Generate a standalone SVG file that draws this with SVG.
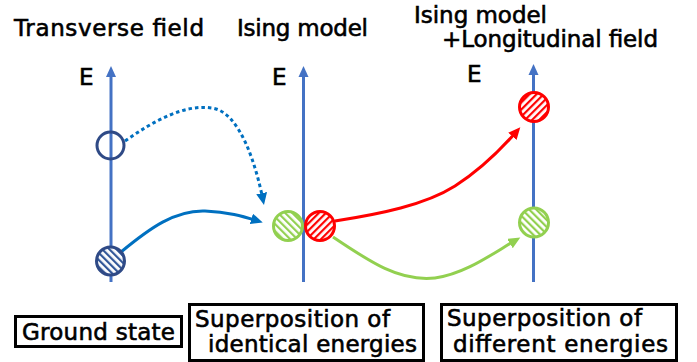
<svg xmlns="http://www.w3.org/2000/svg" width="697" height="362" viewBox="0 0 697 362">
<style>
text{font-family:"DejaVu Sans","Liberation Sans",sans-serif;font-size:23px;fill:#000;stroke:#000;stroke-width:0.6}
.axis{stroke:#4472C4;stroke-width:3;fill:none}
.axhead{fill:#4472C4}
.box{fill:#fff;stroke:#000;stroke-width:3}
.conn{fill:none;stroke-width:3}
</style>
<defs>
<pattern id="hBlue" patternUnits="userSpaceOnUse" width="5" height="5" patternTransform="rotate(-45)">
<rect width="5" height="5" fill="#fff"/><rect width="2.2" height="5" fill="#2F5597"/>
</pattern>
<pattern id="hGreen" patternUnits="userSpaceOnUse" width="5" height="5" patternTransform="rotate(-45)">
<rect width="5" height="5" fill="#fff"/><rect width="2.2" height="5" fill="#92D050"/>
</pattern>
<pattern id="hRed" patternUnits="userSpaceOnUse" width="5" height="5" patternTransform="rotate(45)">
<rect width="5" height="5" fill="#fff"/><rect width="2.2" height="5" fill="#FF0000"/>
</pattern>
<marker id="mBlue" markerUnits="userSpaceOnUse" markerWidth="13" markerHeight="12" refX="7" refY="5.5" orient="auto" viewBox="0 0 13 12">
<path d="M0,0 L12,5.5 L0,11 z" fill="#0070C0"/>
</marker>
<marker id="mRed" markerUnits="userSpaceOnUse" markerWidth="13" markerHeight="12" refX="7" refY="5.5" orient="auto" viewBox="0 0 13 12">
<path d="M0,0 L12,5.5 L0,11 z" fill="#FF0000"/>
</marker>
<marker id="mGreen" markerUnits="userSpaceOnUse" markerWidth="13" markerHeight="12" refX="7" refY="5.5" orient="auto" viewBox="0 0 13 12">
<path d="M0,0 L12,5.5 L0,11 z" fill="#92D050"/>
</marker>
</defs>
<g id="titles">
<text x="14" y="36" textLength="190" lengthAdjust="spacing">Transverse field</text>
<text x="237" y="36" textLength="131" lengthAdjust="spacing">Ising model</text>
<text x="414" y="23" textLength="133" lengthAdjust="spacing">Ising model</text>
<text x="442" y="47" textLength="216" lengthAdjust="spacing">+Longitudinal field</text>
</g>
<g id="axes">
<g id="axis1"><line class="axis" x1="111" y1="74" x2="111" y2="282"/><path class="axhead" d="M111,66 L116,77 L106,77 z"/><text x="79" y="85">E</text></g>
<g id="axis2"><line class="axis" x1="303.5" y1="74" x2="303.5" y2="282"/><path class="axhead" d="M303.5,66 L308.5,77 L298.5,77 z"/><text x="272" y="85">E</text></g>
<g id="axis3"><line class="axis" x1="533.5" y1="72" x2="533.5" y2="282"/><path class="axhead" d="M533.5,64 L538.5,75 L528.5,75 z"/><text x="467" y="82">E</text></g>
</g>
<g id="connectors">
<path class="conn" stroke="#0070C0" stroke-dasharray="3.5 3" d="M125,141 C155,120 185,104 212,108 C240,112 256,165 263,200" marker-end="url(#mBlue)"/>
<path class="conn" stroke="#0070C0" d="M121,252 C150,228 175,210 205,211 C228,212 242,216 258,221" marker-end="url(#mBlue)"/>
<path class="conn" stroke="#FF0000" d="M335,221 C380,214 425,205 455,186 C480,170 503,147 517,131" marker-end="url(#mRed)"/>
<path class="conn" stroke="#92D050" d="M333,237 C370,262 400,282 435,278 C465,274 492,254 516,240" marker-end="url(#mGreen)"/>
</g>
<g id="state-excited-tf"><circle cx="110.5" cy="145.5" r="13.5" fill="none" stroke="#2F4A86" stroke-width="3"/></g>
<g id="state-ground-tf"><circle cx="110.5" cy="261" r="14" fill="url(#hBlue)" stroke="#2F4A86" stroke-width="3"/></g>
<g id="state-green-ising"><circle cx="288" cy="226" r="14.5" fill="url(#hGreen)" stroke="#92D050" stroke-width="3"/></g>
<g id="state-red-ising"><circle cx="320" cy="226" r="14.5" fill="url(#hRed)" stroke="#FF0000" stroke-width="3"/></g>
<g id="state-red-long"><circle cx="534" cy="107" r="14.5" fill="url(#hRed)" stroke="#FF0000" stroke-width="3"/></g>
<g id="state-green-long"><circle cx="534" cy="222.5" r="14.5" fill="url(#hGreen)" stroke="#92D050" stroke-width="3"/></g>
<g id="box-ground"><rect class="box" x="15.5" y="316.5" width="166" height="30"/><text x="22" y="340" textLength="153" lengthAdjust="spacing">Ground state</text></g>
<g id="box-identical"><rect class="box" x="189.5" y="304.5" width="234" height="56"/><text x="195" y="327" textLength="195" lengthAdjust="spacing">Superposition of</text><text x="208" y="352" textLength="209" lengthAdjust="spacing">identical energies</text></g>
<g id="box-different"><rect class="box" x="441.5" y="304.5" width="235" height="56"/><text x="447" y="326" textLength="195" lengthAdjust="spacing">Superposition of</text><text x="453" y="352" textLength="215" lengthAdjust="spacing">different energies</text></g>
</svg>
